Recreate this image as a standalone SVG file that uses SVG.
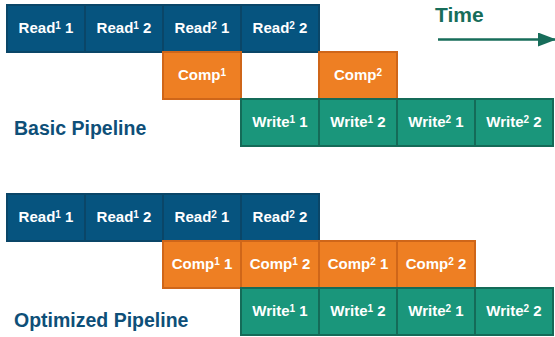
<svg xmlns="http://www.w3.org/2000/svg" width="555" height="337" viewBox="0 0 555 337">
<style>
.r{fill:#06547f;stroke:#0a4668;stroke-width:2}
.c{fill:#ee7f23;stroke:#cf6619;stroke-width:2}
.w{fill:#1a967b;stroke:#146b58;stroke-width:2}
.t{font-family:"Liberation Sans",Arial,sans-serif;font-weight:bold;font-size:15px;fill:#fff;text-anchor:middle}
.s{font-size:10px}
.h{font-family:"Liberation Sans",Arial,sans-serif;font-weight:bold;font-size:19.5px;fill:#0e4f78}
</style>
<defs>
<marker id="ah" markerWidth="18" markerHeight="14" refX="17" refY="7" orient="auto" markerUnits="userSpaceOnUse"><path d="M0,0 L18,7 L0,14 z" fill="#176d5a"/></marker>
</defs>
<g id="basic">
<g id="b-read11"><rect class="r" x="7" y="5" width="78" height="47"/><text class="t" x="46" y="33">Read<tspan class="s" dy="-4">1</tspan><tspan dy="4"> 1</tspan></text></g>
<g id="b-read12"><rect class="r" x="85" y="5" width="78" height="47"/><text class="t" x="124" y="33">Read<tspan class="s" dy="-4">1</tspan><tspan dy="4"> 2</tspan></text></g>
<g id="b-read21"><rect class="r" x="163" y="5" width="78" height="47"/><text class="t" x="202" y="33">Read<tspan class="s" dy="-4">2</tspan><tspan dy="4"> 1</tspan></text></g>
<g id="b-read22"><rect class="r" x="241" y="5" width="78" height="47"/><text class="t" x="280" y="33">Read<tspan class="s" dy="-4">2</tspan><tspan dy="4"> 2</tspan></text></g>
<g id="b-comp1"><rect class="c" x="163" y="52" width="78" height="47"/><text class="t" x="202" y="80">Comp<tspan class="s" dy="-4">1</tspan></text></g>
<g id="b-comp2"><rect class="c" x="319" y="52" width="78" height="47"/><text class="t" x="358" y="80">Comp<tspan class="s" dy="-4">2</tspan></text></g>
<g id="b-write11"><rect class="w" x="241" y="99" width="78" height="47"/><text class="t" x="280" y="127">Write<tspan class="s" dy="-4">1</tspan><tspan dy="4"> 1</tspan></text></g>
<g id="b-write12"><rect class="w" x="319" y="99" width="78" height="47"/><text class="t" x="358" y="127">Write<tspan class="s" dy="-4">1</tspan><tspan dy="4"> 2</tspan></text></g>
<g id="b-write21"><rect class="w" x="397" y="99" width="78" height="47"/><text class="t" x="436" y="127">Write<tspan class="s" dy="-4">2</tspan><tspan dy="4"> 1</tspan></text></g>
<g id="b-write22"><rect class="w" x="475" y="99" width="78" height="47"/><text class="t" x="514" y="127">Write<tspan class="s" dy="-4">2</tspan><tspan dy="4"> 2</tspan></text></g>
<text class="h" x="14" y="135">Basic Pipeline</text>
</g>
<g id="optimized">
<g id="o-read11"><rect class="r" x="7" y="194" width="78" height="47"/><text class="t" x="46" y="222">Read<tspan class="s" dy="-4">1</tspan><tspan dy="4"> 1</tspan></text></g>
<g id="o-read12"><rect class="r" x="85" y="194" width="78" height="47"/><text class="t" x="124" y="222">Read<tspan class="s" dy="-4">1</tspan><tspan dy="4"> 2</tspan></text></g>
<g id="o-read21"><rect class="r" x="163" y="194" width="78" height="47"/><text class="t" x="202" y="222">Read<tspan class="s" dy="-4">2</tspan><tspan dy="4"> 1</tspan></text></g>
<g id="o-read22"><rect class="r" x="241" y="194" width="78" height="47"/><text class="t" x="280" y="222">Read<tspan class="s" dy="-4">2</tspan><tspan dy="4"> 2</tspan></text></g>
<g id="o-comp11"><rect class="c" x="163" y="241" width="78" height="47"/><text class="t" x="202" y="269">Comp<tspan class="s" dy="-4">1</tspan><tspan dy="4"> 1</tspan></text></g>
<g id="o-comp12"><rect class="c" x="241" y="241" width="78" height="47"/><text class="t" x="280" y="269">Comp<tspan class="s" dy="-4">1</tspan><tspan dy="4"> 2</tspan></text></g>
<g id="o-comp21"><rect class="c" x="319" y="241" width="78" height="47"/><text class="t" x="358" y="269">Comp<tspan class="s" dy="-4">2</tspan><tspan dy="4"> 1</tspan></text></g>
<g id="o-comp22"><rect class="c" x="397" y="241" width="78" height="47"/><text class="t" x="436" y="269">Comp<tspan class="s" dy="-4">2</tspan><tspan dy="4"> 2</tspan></text></g>
<g id="o-write11"><rect class="w" x="241" y="288" width="78" height="47"/><text class="t" x="280" y="316">Write<tspan class="s" dy="-4">1</tspan><tspan dy="4"> 1</tspan></text></g>
<g id="o-write12"><rect class="w" x="319" y="288" width="78" height="47"/><text class="t" x="358" y="316">Write<tspan class="s" dy="-4">1</tspan><tspan dy="4"> 2</tspan></text></g>
<g id="o-write21"><rect class="w" x="397" y="288" width="78" height="47"/><text class="t" x="436" y="316">Write<tspan class="s" dy="-4">2</tspan><tspan dy="4"> 1</tspan></text></g>
<g id="o-write22"><rect class="w" x="475" y="288" width="78" height="47"/><text class="t" x="514" y="316">Write<tspan class="s" dy="-4">2</tspan><tspan dy="4"> 2</tspan></text></g>
<text class="h" x="14" y="327">Optimized Pipeline</text>
</g>
<g id="time">
<text x="435" y="22" font-family="Liberation Sans,Arial,sans-serif" font-weight="bold" font-size="21" fill="#176d5a">Time</text>
<g id="connectors"><line x1="438" y1="39.5" x2="555" y2="39.5" stroke="#176d5a" stroke-width="2.5" marker-end="url(#ah)"/></g>
</g>
</svg>
